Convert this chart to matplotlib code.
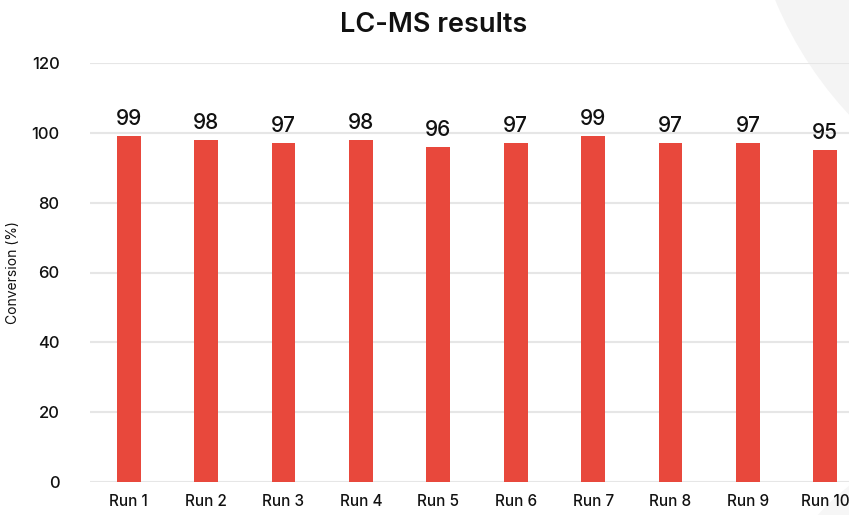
import matplotlib
matplotlib.use('Agg')
import matplotlib.pyplot as plt
from matplotlib.patches import Circle

# LC-MS conversion per run
runs = ['Run 1', 'Run 2', 'Run 3', 'Run 4', 'Run 5',
        'Run 6', 'Run 7', 'Run 8', 'Run 9', 'Run 10']
conversion = [99, 98, 97, 98, 96, 97, 99, 97, 97, 95]
y_ticks = [0, 20, 40, 60, 80, 100, 120]

bar_color = '#E8483C'
grid_color = '#E6E6E6'
text_color = '#111111'

plt.rcParams['font.family'] = ['Inter', 'DejaVu Sans']

W, H = 849, 515
fig = plt.figure(figsize=(W / 100, H / 100), dpi=100)
fig.patch.set_facecolor('white')

# faint decorative circles on the right side (pixel units, origin bottom-left)
fig.patches.append(Circle((11.34, (H + 150) / 100), 3.89,
                          transform=fig.dpi_scale_trans, facecolor='#F4F4F4',
                          edgecolor='none', zorder=-1))
fig.patches.append(Circle((10.10, (H - 690) / 100), 2.60,
                          transform=fig.dpi_scale_trans, facecolor='#F6F6F6',
                          edgecolor='none', zorder=-1))

ax = fig.add_axes([90 / W, 1 - 482 / H, 1 - 90 / W, (482 - 63) / H])
ax.set_facecolor('none')

x = list(range(len(runs)))
ax.bar(x, conversion, width=0.31, color=bar_color, zorder=3)

for xi, v in zip(x, conversion):
    ax.annotate(str(v), (xi, v), xytext=(0, 5), textcoords='offset points',
                ha='center', va='bottom', fontsize=15, fontweight='medium',
                color=text_color)

ax.set_xlim(-0.5, -0.5 + 759 / 77.4)
ax.set_ylim(0, 120)
ax.set_yticks(y_ticks)
ax.set_xticks(x)
ax.set_xticklabels(runs, fontweight='medium')
for lbl in ax.get_yticklabels():
    lbl.set_fontweight('medium')

ax.grid(True, axis='y', color=grid_color, linewidth=1.5, zorder=0)
for s in ax.spines.values():
    s.set_visible(False)
ax.tick_params(axis='y', length=0, pad=22, labelsize=12, labelcolor=text_color)
ax.tick_params(axis='x', length=0, pad=9, labelsize=11, labelcolor=text_color)

ax.set_ylabel('Conversion (%)', fontsize=10, color=text_color)
ax.yaxis.set_label_coords(-(90 - 20) / 759, 0.5)

fig.text(434 / W, 1 - 25 / H, 'LC-MS results', ha='center', va='center',
         fontsize=19.5, fontweight='semibold', color=text_color)

fig.savefig('out.png', dpi=100)
